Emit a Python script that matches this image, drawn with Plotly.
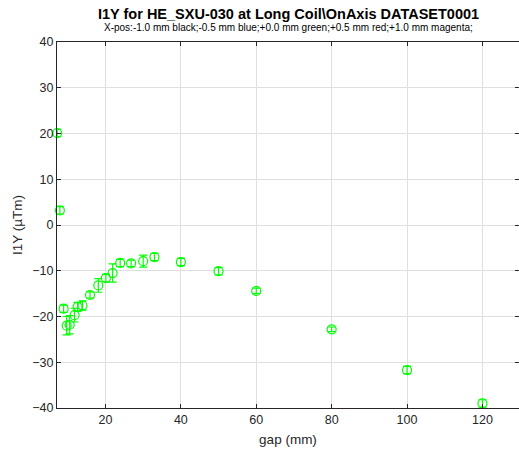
import plotly.graph_objects as go

# gap (mm) and integrated field I1Y (uTm) with error
gap = [7.2, 7.9, 8.9, 9.7, 10.5, 11.8, 12.6, 13.9, 15.9, 18.1, 20.1, 21.9,
       23.9, 26.8, 30, 33, 40, 50, 60, 80, 100, 120]
i1y = [20.1, 3.2, -18.3, -22.0, -21.8, -19.7, -17.9, -17.6, -15.3, -13.2,
       -11.6, -10.5, -8.3, -8.4, -7.9, -7.0, -8.1, -10.1, -14.4, -22.8,
       -31.7, -39.0]
i1y_err = [0.8, 0.8, 0.8, 2.0, 2.0, 1.5, 1.0, 1.0, 0.7, 1.5, 0.8, 2.0,
           0.8, 0.7, 1.3, 0.8, 0.8, 0.8, 0.6, 0.5, 0.8, 0.8]

x_ticks = [20, 40, 60, 80, 100, 120]
y_ticks = [40, 30, 20, 10, 0, -10, -20, -30, -40]

font = "Liberation Sans, Arial, sans-serif"
axcol = "#262626"

fig = go.Figure(go.Scatter(
    x=gap, y=i1y, mode="markers",
    marker=dict(symbol="circle-open", size=9, color="#00ff00",
                line=dict(width=1.2, color="#00ff00")),
    error_y=dict(type="data", array=i1y_err, color="#00ff00",
                 thickness=1.2, width=4),
    cliponaxis=False,
    showlegend=False))

axis_common = dict(
    showline=True, linecolor=axcol, linewidth=1, mirror="ticks",
    ticks="inside", ticklen=4, tickcolor=axcol, automargin=False,
    showgrid=True, gridcolor="#dfdfdf", gridwidth=1, zeroline=False,
    tickfont=dict(family=font, size=12.5, color=axcol),
)

fig.update_layout(
    width=519, height=456,
    margin=dict(l=57, r=0, t=42, b=48),
    plot_bgcolor="white", paper_bgcolor="white",
    xaxis=dict(range=[7.14, 129.7], tickvals=x_ticks,
               title=dict(text="gap (mm)", standoff=8,
                          font=dict(family=font, size=13.5, color=axcol)),
               **axis_common),
    yaxis=dict(range=[-40, 40], tickvals=y_ticks,
               title=dict(text="I1Y (\u00b5Tm)", standoff=6,
                          font=dict(family=font, size=13.5, color=axcol)),
               **axis_common),
    annotations=[
        dict(text="<b>I1Y for HE_SXU-030 at Long Coil\\OnAxis DATASET0001</b>",
             x=0.5, y=14, xref="paper", yref="paper", showarrow=False,
             font=dict(family=font, size=14.5, color="#000000")),
        dict(text="X-pos:-1.0 mm black;-0.5 mm blue;+0.0 mm green;+0.5 mm red;+1.0 mm magenta;",
             x=0.5, y=28, xref="paper", yref="paper", showarrow=False,
             font=dict(family=font, size=10, color="#000000")),
    ],
)

# put title annotations at fixed pixel heights from top
plot_h = 456 - 42 - 48
for ann, ypix in zip(fig.layout.annotations, [14, 28]):
    ann.y = 1 + (42 - ypix) / plot_h
    ann.yanchor = "middle"

# drop the browser's default page margin so the figure sits at (0, 0)
fig.write_html("out.html",
               config={"displayModeBar": False},
               post_script="document.body.style.margin='0';")
